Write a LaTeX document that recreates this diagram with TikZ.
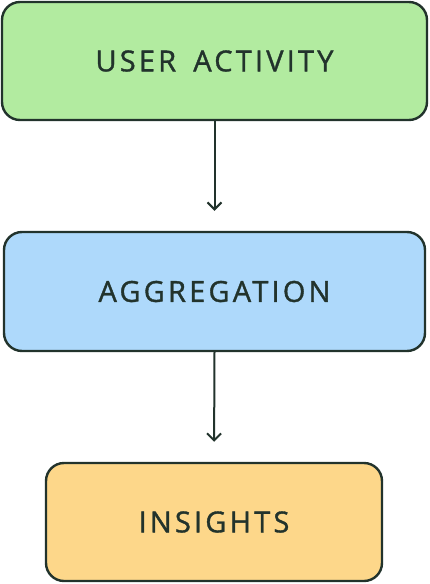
\documentclass[tikz,border=0pt]{standalone}
\usepackage{fontspec}
\setmainfont{Open Sans}[LetterSpace=11, WordSpace=1.6, FakeBold=1.2]
\usetikzlibrary{arrows.meta,positioning}
\definecolor{activitygreen}{HTML}{B2EBA0}
\definecolor{aggblue}{HTML}{AED9FB}
\definecolor{insightorange}{HTML}{FDD78A}
\definecolor{edgedark}{HTML}{22332C}

\tikzset{
	stagebox/.style={draw=edgedark, line width=2.4pt, rounded corners=18pt,
		text=edgedark, font=\fontsize{29}{31}\selectfont, inner sep=0pt},
	flow/.style={draw=edgedark, line width=2pt,
		-{Straight Barb[length=7pt,width=14pt,line width=2pt]}, shorten >=20pt},
}

\begin{document}
\begin{tikzpicture}[x=1pt, y=-1pt]
	\useasboundingbox (0,0) rectangle (429,584);
	\node[stagebox, fill=activitygreen, minimum width=425pt, minimum height=118pt] (act) at (214.5,61) {USER ACTIVITY};
	\node[stagebox, fill=aggblue, minimum width=421pt, minimum height=119pt] (agg) at (214.5,291.5) {AGGREGATION};
	\node[stagebox, fill=insightorange, minimum width=336pt, minimum height=118pt] (ins) at (214,522) {INSIGHTS};
%
	\draw[flow] (act.south) -- (agg.north);
	\draw[flow] (agg.south) -- (ins.north);
\end{tikzpicture}
\end{document}
